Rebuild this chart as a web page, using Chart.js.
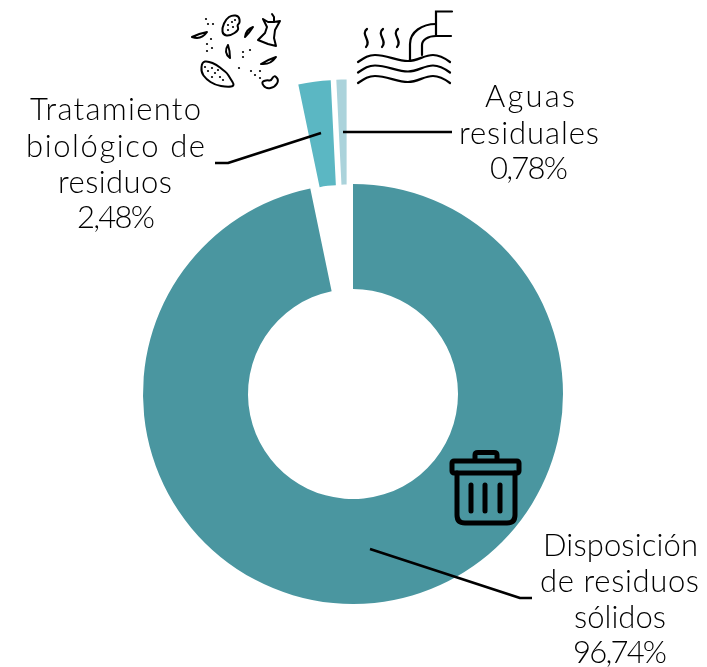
<!DOCTYPE html>
<html><head><meta charset="utf-8">
<style>html,body{margin:0;padding:0;background:#fff;overflow:hidden}#w{position:relative;width:707px;height:667px}</style>
<script src="https://cdn.jsdelivr.net/npm/chart.js@4"></script>
</head><body><div id="w"><canvas id="c" width="707" height="667"></canvas></div>
<script>
const categories = ['Disposición de residuos sólidos','Tratamiento biológico de residuos','Aguas residuales'];
const shares = [96.74, 2.48, 0.78];
const colours = ['#4A96A0','#5BB7C3','#ABD3DB'];
const explode = [[0,0],[-12,-104],[-6.4,-104.5]];
const FONT = '300 31px Lato';
// text, left edge, right edge, baseline
const labelLines = [
 ['Tratamiento',30,201,120],['biológico de',26,205,157],['residuos',58,172,193],['2,48%',77,155,228],
 ['Aguas',485,575,107],['residuales',459,599,144],['0,78%',490,568,179],
 ['Disposición',543,698,556],['de residuos',540,699,592],['sólidos',574,666,628],['96,74%',573,667,663]
];
const leaders = [
 [[215,163],[228,163],[321,133]],
 [[343,132],[452,132]],
 [[370,549],[520,598],[532,598]]
];
function poly(ctx,pts){ctx.beginPath();pts.forEach((p,i)=>i?ctx.lineTo(p[0],p[1]):ctx.moveTo(p[0],p[1]));ctx.stroke();}
function rr(ctx,x,y,w,h,r){ctx.beginPath();ctx.roundRect(x,y,w,h,r);ctx.stroke();}
function trash(ctx){
 ctx.lineWidth=5;ctx.strokeStyle='#000';ctx.lineCap='round';ctx.lineJoin='round';
 rr(ctx,452,461,67,12,2);
 ctx.beginPath();ctx.moveTo(475,460);ctx.lineTo(475,455);ctx.quadraticCurveTo(475,452.5,478,452.5);ctx.lineTo(494,452.5);ctx.quadraticCurveTo(497,452.5,497,455);ctx.lineTo(497,460);ctx.stroke();
 ctx.beginPath();ctx.moveTo(457,473);ctx.lineTo(457,515);ctx.quadraticCurveTo(457,523,465,523);ctx.lineTo(507,523);ctx.quadraticCurveTo(515,523,515,515);ctx.lineTo(515,473);ctx.stroke();
 [471,485,500].forEach(x=>poly(ctx,[[x,485],[x,511]]));
}
function wave(ctx,d){
 ctx.beginPath();ctx.moveTo(358,62+d);
 ctx.bezierCurveTo(364,58+d,368,55+d,375,55+d);
 ctx.bezierCurveTo(387,55+d,397,61+d,408,61+d);
 ctx.bezierCurveTo(418,61+d,424,55+d,433,55+d);
 ctx.bezierCurveTo(440,55+d,446,59+d,450,62+d);
 ctx.stroke();
}
function waterIcon(ctx){
 ctx.lineWidth=2.2;ctx.strokeStyle='#000';ctx.lineCap='round';ctx.lineJoin='miter';
 wave(ctx,0);wave(ctx,10.5);wave(ctx,21);
 [365,381,396].forEach(x=>{ctx.beginPath();ctx.moveTo(x+2,29);ctx.bezierCurveTo(x-5,34,x+7,41,x+1,47);ctx.stroke();});
 ctx.beginPath();ctx.moveTo(410,60);ctx.lineTo(410,44);ctx.bezierCurveTo(410,32,422,24,436,24);ctx.stroke();
 ctx.beginPath();ctx.moveTo(422,55);ctx.lineTo(422,45);ctx.bezierCurveTo(422,40,428,36,436,36);ctx.stroke();
 poly(ctx,[[452,11.5],[436,11.5],[436,36],[451,36]]);
}
function blob(ctx,p){
 ctx.beginPath();
 const n=p.length,m=(a,b)=>[(a[0]+b[0])/2,(a[1]+b[1])/2],s=m(p[n-1],p[0]);
 ctx.moveTo(s[0],s[1]);
 p.forEach((q,i)=>{const e=m(q,p[(i+1)%n]);ctx.quadraticCurveTo(q[0],q[1],e[0],e[1]);});
 ctx.closePath();ctx.stroke();
}
function leaf(ctx,x1,y1,x2,y2,b){
 const mx=(x1+x2)/2,my=(y1+y2)/2,dx=y2-y1,dy=x1-x2,l=Math.hypot(dx,dy);
 ctx.beginPath();ctx.moveTo(x1,y1);
 ctx.quadraticCurveTo(mx+dx/l*b,my+dy/l*b,x2,y2);
 ctx.quadraticCurveTo(mx-dx/l*b*.2,my-dy/l*b*.2,x1,y1);ctx.stroke();
}
function foodIcon(ctx){
 ctx.lineWidth=2;ctx.strokeStyle='#000';ctx.fillStyle='#000';ctx.lineJoin='round';ctx.lineCap='round';
 blob(ctx,[[202,62],[208,61],[217,65],[223,70],[227,73],[230,78],[235,86],[227,87],[215,85],[206,79],[201,72]]);
 blob(ctx,[[222,28],[226,19],[232,15],[239,16],[240,23],[237,25],[239,30],[230,36],[223,35]]);
 poly(ctx,[[263,19],[268,22],[274,22],[280,21],[275,30],[274,38],[276,46],[268,44],[258,40],[265,33],[267,27],[263,19]]);
 poly(ctx,[[272,14],[274,17],[274,21]]);
 leaf(ctx,192,37,207,32,-6);leaf(ctx,245,37,253,27,4);leaf(ctx,228,45,230,58,-6);leaf(ctx,261,64,276,57,-5);
 blob(ctx,[[261,82],[267,80],[271,81],[274,75],[279,80],[275,87],[266,89]]);
 [[206,19],[208,24],[213,24],[211,39],[207,44],[212,48],[207,51],[243,52],[250,50],[243,57],[239,68],[251,71],[255,75],[260,71],[260,78],
  [205,67],[212,68],[208,71],[215,73],[218,70],[212,77],[220,77],[223,80],[228,25],[232,22],[235,20],[228,30],[233,27]]
  .forEach(p=>{ctx.beginPath();ctx.arc(p[0],p[1],1.1,0,7);ctx.fill();});
}
const overlay = {
 id:'overlay',
 afterDatasetsUpdate(chart){
  chart.getDatasetMeta(0).data.forEach((a,i)=>{a.x+=explode[i][0];a.y+=explode[i][1];});
 },
 afterDatasetsDraw(chart){
  const ctx=chart.ctx;ctx.save();
  ctx.strokeStyle='#000';ctx.lineWidth=2.6;ctx.lineCap='butt';ctx.lineJoin='round';
  leaders.forEach(l=>poly(ctx,l));
  trash(ctx);waterIcon(ctx);foodIcon(ctx);
  ctx.fillStyle='#000';ctx.font=FONT;ctx.textAlign='left';ctx.textBaseline='alphabetic';
  labelLines.forEach(([t,l,r,y])=>{
   ctx.letterSpacing='0px';
   const w=ctx.measureText(t).width;
   ctx.letterSpacing=((r-l-w)/(t.length-1))+'px';
   ctx.fillText(t,l,y);
  });
  ctx.restore();
 }
};
new Chart(document.getElementById('c'),{
 type:'doughnut',
 data:{labels:categories,datasets:[{data:shares,backgroundColor:colours,borderWidth:0,clip:false}]},
 options:{responsive:false,animation:false,cutout:'50%',radius:210,rotation:0,
  layout:{padding:{left:143,right:144,top:184,bottom:63}},
  events:[],
  plugins:{legend:{display:false},tooltip:{enabled:false}}},
 plugins:[overlay]
});
</script></body></html>
